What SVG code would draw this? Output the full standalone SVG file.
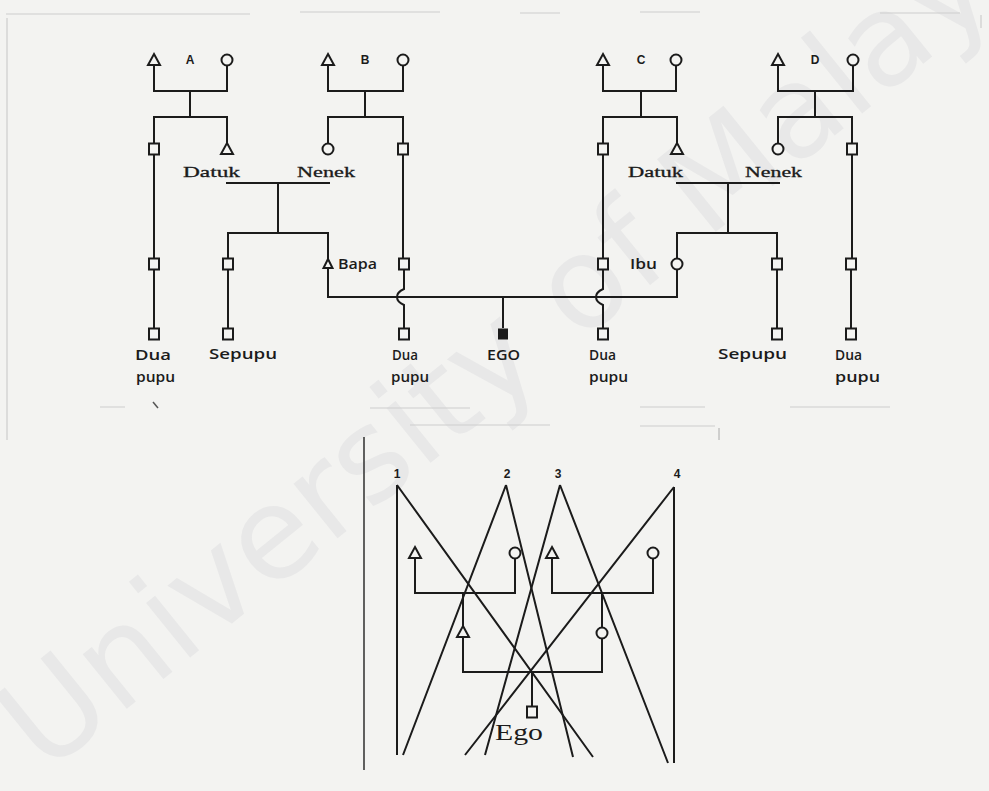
<svg xmlns="http://www.w3.org/2000/svg" width="989" height="791" viewBox="0 0 989 791">
<style>
.ln{stroke:#1b1b1b;stroke-width:2;fill:none;stroke-linejoin:miter}
.sym{stroke:#1b1b1b;stroke-width:2;fill:#f4f4f2}
.fill{fill:#1b1b1b}
.lbl{font-family:"Open Sans","Liberation Sans",sans-serif;font-weight:600;font-size:14px;fill:#1b1b1b}
.ser{font-family:"Liberation Serif","DejaVu Serif",serif;font-size:15px;fill:#1b1b1b;stroke:#1b1b1b;stroke-width:0.3}
.ego{font-family:"Liberation Serif","DejaVu Serif",serif;font-size:23px;fill:#1b1b1b}
.let{font-family:"Liberation Sans",Arial,sans-serif;font-weight:bold;font-size:12px;fill:#1b1b1b;text-anchor:middle}
.faint{stroke:#cdcdcd;stroke-width:1.2;fill:none}
.wm{font-family:"DejaVu Sans",sans-serif;font-size:128px;fill:#e8e8e8}
</style>
<defs>
<path id="tri" d="M0,-6 L6,5 L-6,5 Z"/>
<circle id="cir" r="5.5"/>
<rect id="sq" x="-5" y="-5.5" width="10" height="11"/>
<path id="tris" d="M0,-5 L4.5,4 L-4.5,4 Z"/>
</defs>
<rect width="989" height="791" fill="#f3f3f1"/>
<text class="wm" transform="translate(45,775) rotate(-39)">University of Malaya</text>

<g id="scan-marks">
<path class="faint" d="M6,14 H250 M300,12 H440 M520,13 H560 M640,12 H700 M880,13 H960"/>
<path class="faint" d="M7,18 V440"/>
<path class="faint" d="M981,15 V28"/>
<path class="faint" d="M100,407 H125 M370,408 H470 M640,407 H705 M790,407 H890 M410,425 H550 M640,426 H715"/>
<path d="M153,402 L158,408" stroke="#555" stroke-width="1.5"/>
<path d="M719,428 V440" stroke="#aaa" stroke-width="1"/>
</g>

<g id="connectors">
<path class="ln" d="M154,66 V91 H227 V66 M190,91 V117 M154,143 V117 H227 V143"/>
<path class="ln" d="M328,66 V91 H403 V66 M365,91 V117 M328,143 V117 H403 V143"/>
<path class="ln" d="M603,66 V91 H676 V66 M641,91 V117 M603,143 V117 H677 V143"/>
<path class="ln" d="M778,66 V91 H853 V66 M815,91 V117 M778,143 V117 H852 V143"/>
<path class="ln" d="M226,183 H330 M278,183 V233 M228,258 V233 H328 V259"/>
<path class="ln" d="M676,183 H780 M728,183 V233 M677,258 V233 H777 V258"/>
<path class="ln" d="M154,155 V258 M154,270 V328"/>
<path class="ln" d="M228,270 V328"/>
<path class="ln" d="M403,155 V258 M404,270 V289 Q397,292 397,297 Q397,302 404,305 V328"/>
<path class="ln" d="M603,155 V258 M603,270 V289 Q596,292 596,297 Q596,302 603,305 V328"/>
<path class="ln" d="M777,270 V328"/>
<path class="ln" d="M852,155 V258 M851,270 V328"/>
<path class="ln" d="M328,268 V297 H677 V270 M503,297 V328"/>
</g>

<g id="nodes-top">
<g id="A"><use href="#tri" class="sym" x="154" y="60"/><text class="let" x="190" y="64">A</text><use href="#cir" class="sym" x="227" y="60"/></g>
<g id="B"><use href="#tri" class="sym" x="328" y="60"/><text class="let" x="365" y="64">B</text><use href="#cir" class="sym" x="403" y="60"/></g>
<g id="C"><use href="#tri" class="sym" x="603" y="60"/><text class="let" x="641" y="64">C</text><use href="#cir" class="sym" x="676" y="60"/></g>
<g id="D"><use href="#tri" class="sym" x="778" y="60"/><text class="let" x="815" y="64">D</text><use href="#cir" class="sym" x="853" y="60"/></g>

<g id="l2"><use href="#sq" class="sym" x="154" y="149"/></g>
<g id="datuk-l"><use href="#tri" class="sym" x="227" y="149"/><text class="ser" x="183" y="177" textLength="57" lengthAdjust="spacingAndGlyphs">Datuk</text></g>
<g id="nenek-l"><use href="#cir" class="sym" x="328" y="149"/><text class="ser" x="297" y="177" textLength="58" lengthAdjust="spacingAndGlyphs">Nenek</text></g>
<g id="l2b"><use href="#sq" class="sym" x="403" y="149"/></g>
<g id="l2c"><use href="#sq" class="sym" x="603" y="149"/></g>
<g id="datuk-r"><use href="#tri" class="sym" x="677" y="149"/><text class="ser" x="628" y="177" textLength="55" lengthAdjust="spacingAndGlyphs">Datuk</text></g>
<g id="nenek-r"><use href="#cir" class="sym" x="778" y="149"/><text class="ser" x="745" y="177" textLength="57" lengthAdjust="spacingAndGlyphs">Nenek</text></g>
<g id="l2d"><use href="#sq" class="sym" x="852" y="149"/></g>

<g id="l3a"><use href="#sq" class="sym" x="154" y="264"/></g>
<g id="l3b"><use href="#sq" class="sym" x="228" y="264"/></g>
<g id="bapa"><use href="#tris" class="sym" x="328" y="264"/><text class="lbl" x="338" y="269" font-size="12" textLength="39" lengthAdjust="spacingAndGlyphs">Bapa</text></g>
<g id="l3c"><use href="#sq" class="sym" x="404" y="264"/></g>
<g id="l3d"><use href="#sq" class="sym" x="603" y="264"/></g>
<g id="ibu"><use href="#cir" class="sym" x="677" y="264"/><text class="lbl" x="630" y="269" font-size="12" textLength="27" lengthAdjust="spacingAndGlyphs">Ibu</text></g>
<g id="l3e"><use href="#sq" class="sym" x="777" y="264"/></g>
<g id="l3f"><use href="#sq" class="sym" x="851" y="264"/></g>

<g id="duapupu1"><use href="#sq" class="sym" x="154" y="334"/><text class="lbl" x="135" y="360" textLength="36" lengthAdjust="spacingAndGlyphs">Dua</text><text class="lbl" x="136" y="382" textLength="39" lengthAdjust="spacingAndGlyphs">pupu</text></g>
<g id="sepupu1"><use href="#sq" class="sym" x="228" y="334"/><text class="lbl" x="209" y="359" textLength="68" lengthAdjust="spacingAndGlyphs">Sepupu</text></g>
<g id="duapupu2"><use href="#sq" class="sym" x="404" y="334"/><text class="lbl" x="392" y="360" textLength="26" lengthAdjust="spacingAndGlyphs">Dua</text><text class="lbl" x="391" y="382" textLength="38" lengthAdjust="spacingAndGlyphs">pupu</text></g>
<g id="ego-top"><rect x="498" y="328.5" width="10" height="11" class="fill"/><text class="lbl" x="487" y="360" textLength="33" lengthAdjust="spacingAndGlyphs">EGO</text></g>
<g id="duapupu3"><use href="#sq" class="sym" x="603" y="334"/><text class="lbl" x="589" y="360" textLength="27" lengthAdjust="spacingAndGlyphs">Dua</text><text class="lbl" x="589" y="382" textLength="39" lengthAdjust="spacingAndGlyphs">pupu</text></g>
<g id="sepupu2"><use href="#sq" class="sym" x="777" y="334"/><text class="lbl" x="718" y="359" textLength="69" lengthAdjust="spacingAndGlyphs">Sepupu</text></g>
<g id="duapupu4"><use href="#sq" class="sym" x="851" y="334"/><text class="lbl" x="835" y="360" textLength="27" lengthAdjust="spacingAndGlyphs">Dua</text><text class="lbl" x="835" y="382" textLength="45" lengthAdjust="spacingAndGlyphs">pupu</text></g>
</g>

<g id="bottom-connectors">
<path d="M364,437 V770" stroke="#3a3a3a" stroke-width="1.6"/>
<path class="ln" stroke-width="2.2" d="M397,485 V755 M397,485 L593,757"/>
<path class="ln" stroke-width="2.2" d="M506,485 L403,755 M506,485 L573,757"/>
<path class="ln" stroke-width="2.2" d="M560,485 L485,755 M560,485 L668,763"/>
<path class="ln" stroke-width="2.2" d="M674,487 V763 M674,487 L465,755"/>
<path class="ln" d="M415,559 V593 H515 V559 M552,559 V593 H653 V559"/>
<path class="ln" d="M463,593 V627 M602,593 V627 M463,637 V672 H602 V639 M532,672 V706"/>
</g>

<g id="bottom-nodes">
<g id="n1"><text class="let" x="397" y="478" font-size="13">1</text></g>
<g id="n2"><text class="let" x="507" y="478" font-size="13">2</text></g>
<g id="n3"><text class="let" x="558" y="478" font-size="13">3</text></g>
<g id="n4"><text class="let" x="677" y="478" font-size="13">4</text></g>
<g id="bl-f"><use href="#tri" class="sym" x="415" y="553"/></g>
<g id="bl-m"><use href="#cir" class="sym" x="515" y="553"/></g>
<g id="br-f"><use href="#tri" class="sym" x="552" y="553"/></g>
<g id="br-m"><use href="#cir" class="sym" x="653" y="553"/></g>
<g id="b-father"><use href="#tri" class="sym" x="463" y="632"/></g>
<g id="b-mother"><use href="#cir" class="sym" x="602" y="633"/></g>
<g id="b-ego"><use href="#sq" class="sym" x="532" y="712"/><text class="ego" x="495" y="740" textLength="48" lengthAdjust="spacingAndGlyphs">Ego</text></g>
</g>
</svg>
